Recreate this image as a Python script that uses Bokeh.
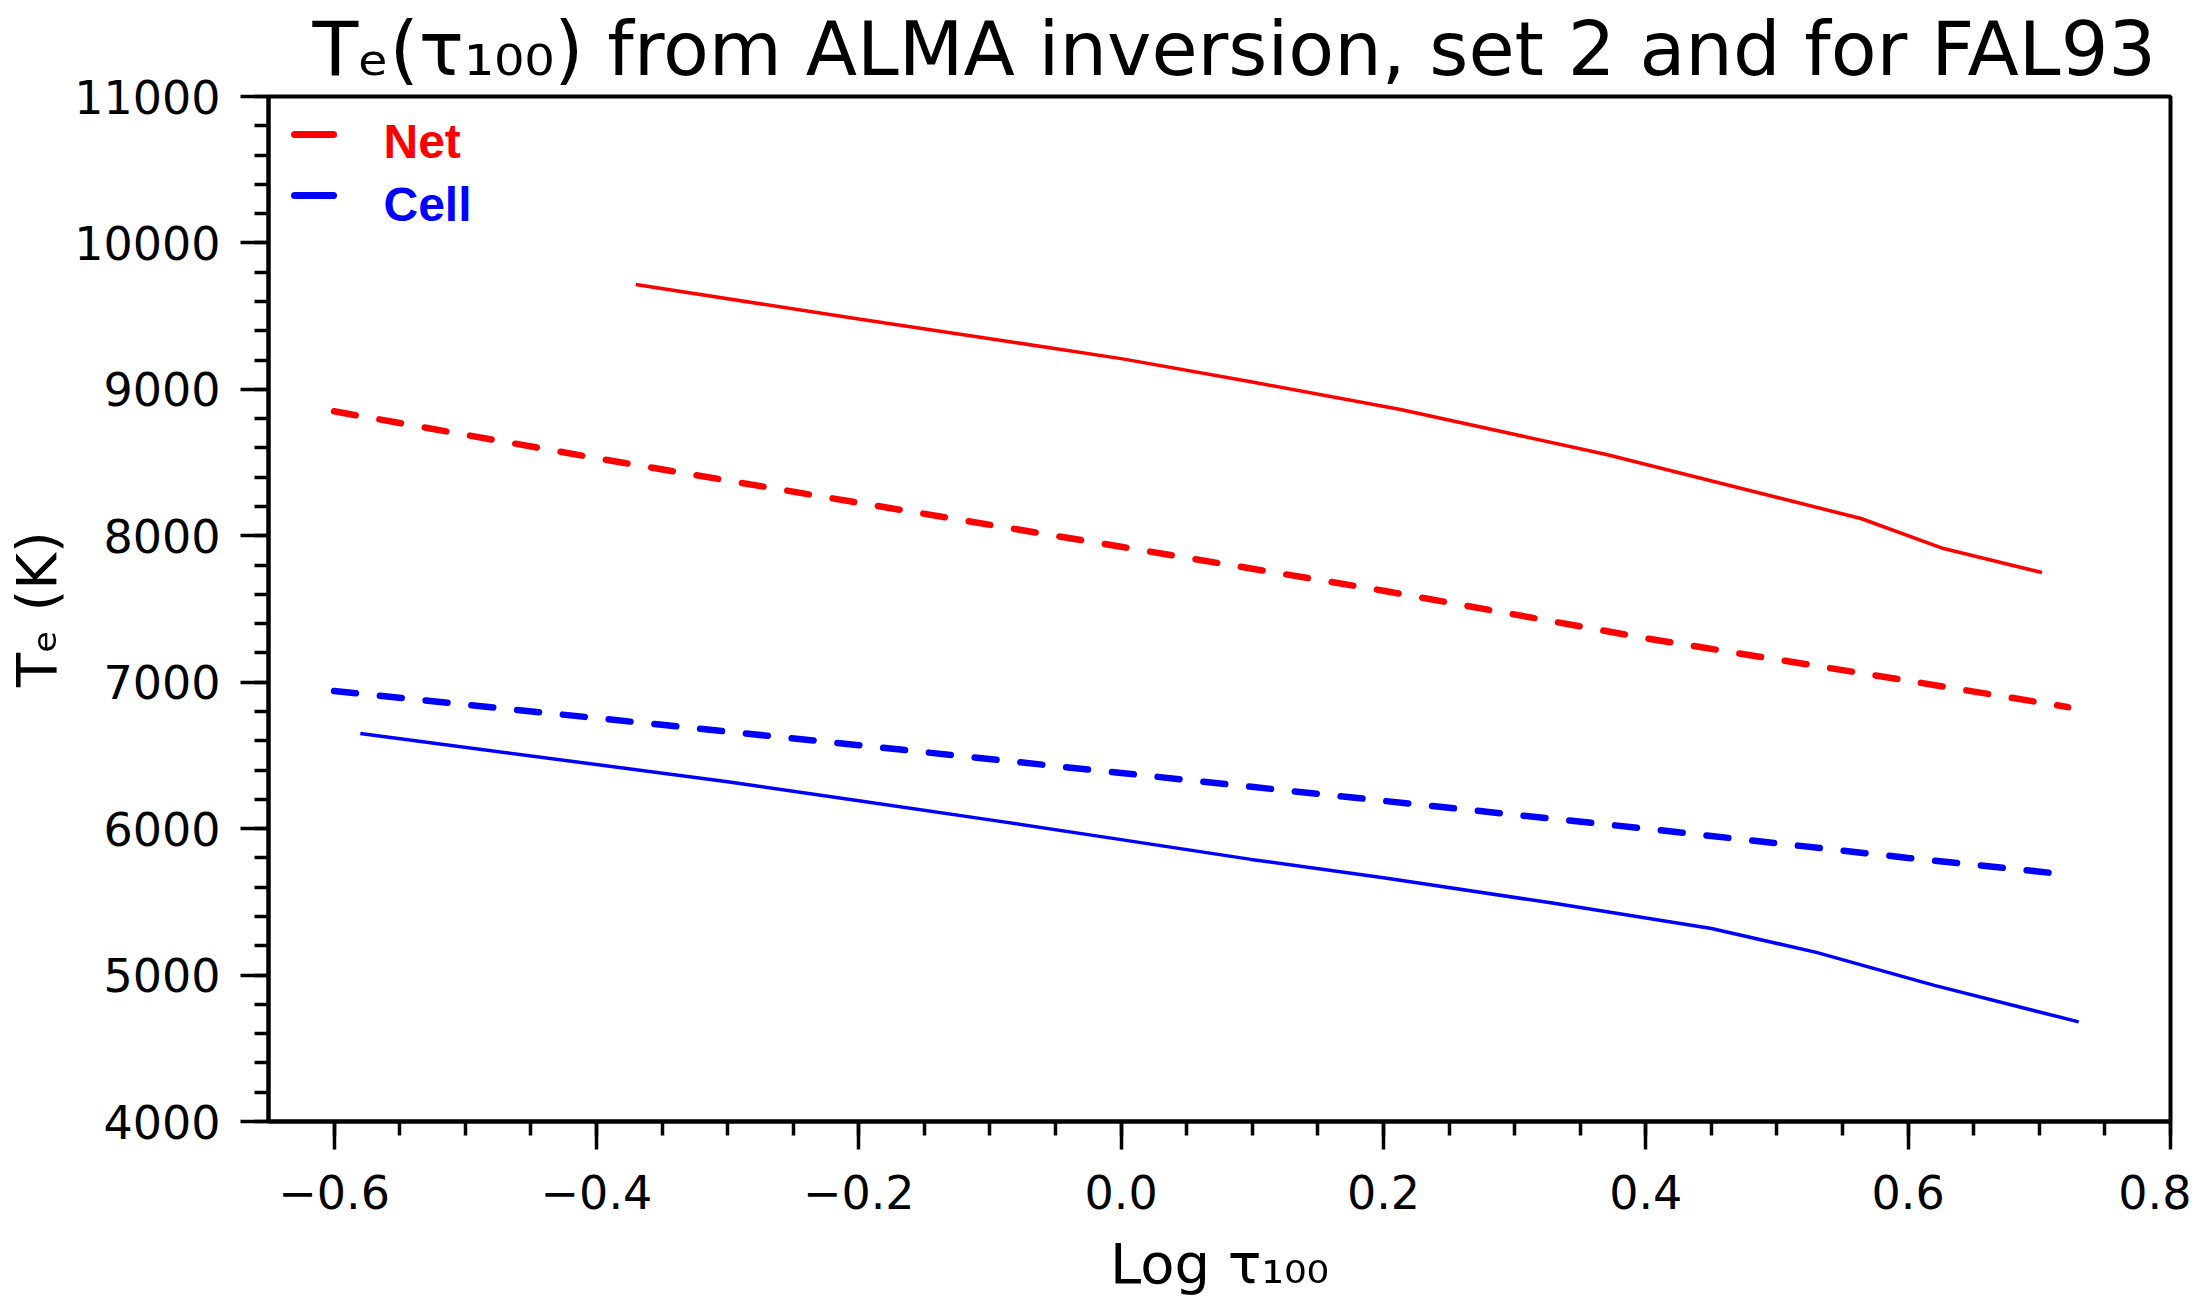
from bokeh.plotting import figure
from bokeh.models import Label, SingleIntervalTicker, Range1d, CustomJSTickFormatter
from bokeh.embed import file_html
from bokeh.resources import INLINE

# ---- data ----
net_alma_x = [-0.37, -0.2, -0.086, 0.0, 0.1, 0.213, 0.37, 0.47, 0.564, 0.627, 0.702]
net_alma_y = [9716, 9480, 9327, 9210, 9050, 8863, 8555, 8330, 8118, 7913, 7749]
net_fal_x = [-0.6, -0.4, -0.2, 0.0, 0.2, 0.4, 0.6, 0.722]
net_fal_y = [8850, 8530, 8225, 7925, 7625, 7300, 7010, 6830]
cell_fal_x = [-0.6, -0.4, -0.2, 0.0, 0.2, 0.4, 0.6, 0.712]
cell_fal_y = [6940, 6755, 6570, 6380, 6190, 6000, 5800, 5695]
cell_alma_x = [-0.58, -0.3, -0.2, -0.1, 0.0, 0.099, 0.2, 0.33, 0.45, 0.53, 0.62, 0.73]
cell_alma_y = [6650, 6320, 6190, 6060, 5925, 5790, 5665, 5490, 5318, 5155, 4930, 4680]

legend_labels = ["Net", "Cell"]
legend_colors = ["#ff0000", "#0000ff"]

title_text = "T\u2091(\u03c4\u2081\u2080\u2080) from ALMA inversion, set 2 and for FAL93"
x_label = "Log \u03c4\u2081\u2080\u2080"
y_label = "T\u2091 (K)"

X0, X1 = -0.65, 0.8
Y0, Y1 = 4000, 11000

# frame geometry on the canvas (pixels), used to place the legend
FL, FT, FW, FH = 268, 96, 1902, 1025


def xd(px):
    return X0 + (px - FL) / FW * (X1 - X0)


def yd(py):
    return Y1 - (py - FT) / FH * (Y1 - Y0)


p = figure(frame_width=FW, frame_height=FH, x_range=Range1d(X0, X1), y_range=Range1d(Y0, Y1),
           output_backend="svg", toolbar_location=None,
           min_border_left=FL, min_border_right=21, min_border_top=FT, min_border_bottom=173)

p.title.text = title_text
p.title.text_font = "DejaVu Sans"
p.title.text_font_size = "75px"
p.title.text_font_style = "normal"
p.title.text_color = "black"
p.title.align = "left"
p.title.vertical_align = "top"
p.title.offset = 44
p.title.standoff = 4

p.grid.visible = False
p.outline_line_color = "black"
p.outline_line_width = 4
p.background_fill_color = "white"
p.border_fill_color = "white"

p.xaxis.ticker = SingleIntervalTicker(interval=0.2, num_minor_ticks=4)
p.yaxis.ticker = SingleIntervalTicker(interval=1000, num_minor_ticks=5)
p.xaxis.formatter = CustomJSTickFormatter(code="""
    if (Math.abs(tick) < 1e-9) return "0.0";
    return tick < 0 ? "\u2212" + (-tick).toFixed(1) : tick.toFixed(1);
""")

for ax in (p.xaxis[0], p.yaxis[0]):
    ax.axis_line_width = 4
    ax.axis_line_color = "black"
    ax.major_tick_line_width = 3.5
    ax.minor_tick_line_width = 3.5
    ax.major_tick_line_color = "black"
    ax.minor_tick_line_color = "black"
    ax.major_tick_out = 28
    ax.major_tick_in = 0
    ax.minor_tick_out = 14
    ax.minor_tick_in = 0
    ax.major_label_text_font = "DejaVu Sans"
    ax.major_label_text_font_size = "46px"
    ax.major_label_text_color = "black"
    ax.axis_label_text_font = "DejaVu Sans"
    ax.axis_label_text_font_style = "normal"
    ax.axis_label_text_color = "black"
p.xaxis.major_label_standoff = 25
p.yaxis.major_label_standoff = 20
p.xaxis.axis_label = x_label
p.yaxis.axis_label = y_label
p.xaxis.axis_label_text_font_size = "56px"
p.yaxis.axis_label_text_font_size = "56px"
p.xaxis.axis_label_standoff = 19
p.yaxis.axis_label_standoff = 2

# ---- curves ----
p.line(net_alma_x, net_alma_y, line_color=legend_colors[0], line_width=3.5)
p.line(net_fal_x, net_fal_y, line_color=legend_colors[0], line_width=6.5,
       line_dash="22 24", line_cap="round")
p.line(cell_fal_x, cell_fal_y, line_color=legend_colors[1], line_width=6.5,
       line_dash="22 24", line_cap="round")
p.line(cell_alma_x, cell_alma_y, line_color=legend_colors[1], line_width=3.5)

# ---- legend (manual) ----
leg_rows = [134, 195]
leg_base = [141, 204]
for lab, col, ry, by in zip(legend_labels, legend_colors, leg_rows, leg_base):
    p.segment(x0=[xd(294)], y0=[yd(ry)], x1=[xd(333)], y1=[yd(ry)],
              line_color=col, line_width=7, line_cap="round")
    p.add_layout(Label(x=xd(383), y=yd(by), text=lab, text_color=col,
                       text_font="Liberation Sans", text_font_style="bold",
                       text_font_size="48px", text_baseline="alphabetic",
                       text_align="left"))

open("out.html", "w").write(file_html(p, INLINE))
